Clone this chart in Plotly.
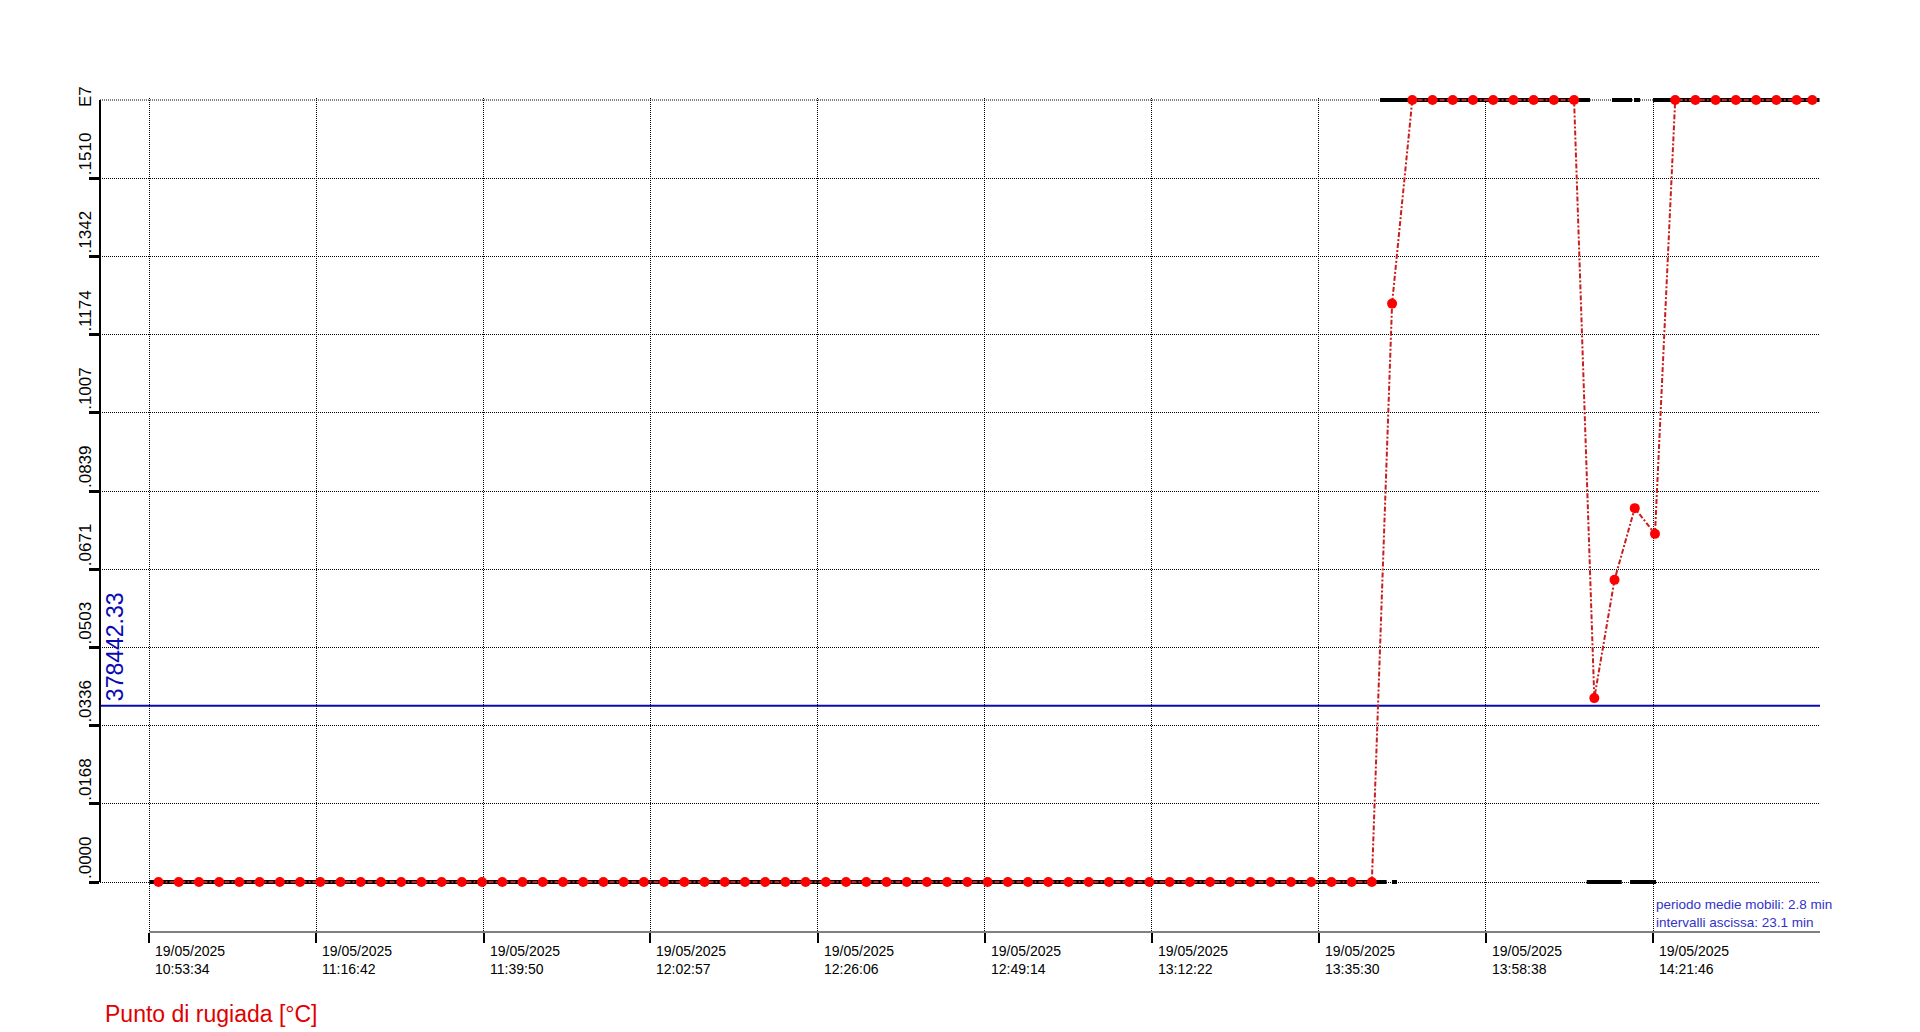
import plotly.graph_objects as go

FONT = "Liberation Sans, Arial, sans-serif"
DAY = "2025-05-19 "

# ---------------- data ----------------
x_tick_times = ["10:53:34", "11:16:42", "11:39:50", "12:02:57", "12:26:06",
                "12:49:14", "13:12:22", "13:35:30", "13:58:38", "14:21:46"]
x_tick_date = "19/05/2025"
x_range = ["10:46:44", "14:44:53"]

y_tick_vals = [0, 167780, 335560, 503340, 671120, 838900,
               1006680, 1174460, 1342240, 1510020]
y_tick_labels = [".0000", ".0168", ".0336", ".0503", ".0671", ".0839",
                 ".1007", ".1174", ".1342", ".1510"]
y_top = 1677800
y_top_label = "E7"

# moving average (red) – sampled every ~2.8 min
dew_times = [
    "10:54:50", "10:57:38", "11:00:26", "11:03:14", "11:06:02",
    "11:08:50", "11:11:38", "11:14:26", "11:17:14", "11:20:02",
    "11:22:50", "11:25:38", "11:28:26", "11:31:14", "11:34:02",
    "11:36:50", "11:39:38", "11:42:26", "11:45:14", "11:48:02",
    "11:50:50", "11:53:38", "11:56:26", "11:59:14", "12:02:02",
    "12:04:50", "12:07:38", "12:10:26", "12:13:14", "12:16:02",
    "12:18:50", "12:21:38", "12:24:26", "12:27:14", "12:30:02",
    "12:32:50", "12:35:38", "12:38:26", "12:41:14", "12:44:02",
    "12:46:50", "12:49:38", "12:52:26", "12:55:14", "12:58:02",
    "13:00:50", "13:03:38", "13:06:26", "13:09:14", "13:12:02",
    "13:14:50", "13:17:38", "13:20:26", "13:23:14", "13:26:02",
    "13:28:50", "13:31:38", "13:34:26", "13:37:14", "13:40:02",
    "13:42:50", "13:45:38", "13:48:26", "13:51:14", "13:54:02",
    "13:56:50", "13:59:38", "14:02:26", "14:05:14", "14:08:02",
    "14:10:50", "14:13:38", "14:16:26", "14:19:14", "14:22:02",
    "14:24:50", "14:27:38", "14:30:26", "14:33:14", "14:36:02",
    "14:38:50", "14:41:38", "14:43:49"]
dew_values = [
    0, 0, 0, 0, 0,
    0, 0, 0, 0, 0,
    0, 0, 0, 0, 0,
    0, 0, 0, 0, 0,
    0, 0, 0, 0, 0,
    0, 0, 0, 0, 0,
    0, 0, 0, 0, 0,
    0, 0, 0, 0, 0,
    0, 0, 0, 0, 0,
    0, 0, 0, 0, 0,
    0, 0, 0, 0, 0,
    0, 0, 0, 0, 0,
    0, 1241000, 1677800, 1677800, 1677800,
    1677800, 1677800, 1677800, 1677800, 1677800,
    1677800, 394600, 648300, 802100, 747000,
    1677800, 1677800, 1677800, 1677800, 1677800,
    1677800, 1677800, 1677800]

# raw signal (black, clipped to the axis range)
raw_times = ["10:53:34", "13:44:53", None, "13:45:37", "13:46:19", None,
             "14:12:35", "14:17:26", None, "14:18:35", "14:22:11", None,
             "13:43:58", "14:13:02", None, "14:16:05", "14:18:51", None,
             "14:19:08", "14:19:58", None, "14:21:46", "14:44:49"]
raw_values = [0, 0, None, 0, 0, None,
              0, 0, None, 0, 0, None,
              1677800, 1677800, None, 1677800, 1677800, None,
              1677800, 1677800, None, 1677800, 1677800]

threshold = 378442.33
threshold_label = "378442.33"
series_label = "Punto di rugiada [°C]"
info_lines = ["periodo medie mobili: 2.8 min", "intervalli ascissa: 23.1 min"]

# ---------------- styles ----------------
RED_LINE = "#c81e1e"
RED_DOT = "#ff0000"
BLUE = "#0a0ab4"
INFO_BLUE = "#3232c8"
LABEL_RED = "#e00000"
GRID_DASH = "1px,1px"


def ts(t):
    return None if t is None else DAY + t


fig = go.Figure()

fig.add_trace(go.Scatter(
    x=[ts(t) for t in raw_times], y=raw_values, mode="lines",
    line=dict(color="black", width=4), connectgaps=False,
    hoverinfo="skip", showlegend=False))

fig.add_trace(go.Scatter(
    x=[ts(t) for t in dew_times], y=dew_values, mode="lines+markers",
    line=dict(color=RED_LINE, width=2, dash="5px,2px,2px,2px"),
    marker=dict(color=RED_DOT, size=10),
    cliponaxis=False, showlegend=False, name=series_label))

shapes = [
    # top grid line
    dict(type="line", xref="paper", x0=0, x1=1, yref="y", y0=y_top, y1=y_top,
         line=dict(color="black", width=1, dash=GRID_DASH), layer="below"),
    # y axis line
    dict(type="line", xref="paper", x0=0, x1=0, yref="y", y0=0, y1=y_top,
         line=dict(color="black", width=2)),
    # x axis line (from first tick)
    dict(type="line", xref="x", x0=ts(x_tick_times[0]), x1=ts(x_range[1]),
         yref="paper", y0=0, y1=0, line=dict(color="black", width=1)),
    # threshold line
    dict(type="line", xref="paper", x0=0, x1=1, yref="y", y0=threshold,
         y1=threshold, line=dict(color=BLUE, width=2), layer="below"),
]

annotations = []
for v, lab in zip(y_tick_vals, y_tick_labels):
    annotations.append(dict(
        xref="paper", x=0, yref="y", y=v, text=lab, showarrow=False,
        textangle=-90, xanchor="right", yanchor="bottom", xshift=-3, yshift=1,
        font=dict(family=FONT, size=17, color="black")))
annotations.append(dict(
    xref="paper", x=0, yref="y", y=y_top, text=y_top_label, showarrow=False,
    textangle=-90, xanchor="right", yanchor="bottom", xshift=-3, yshift=-9,
    font=dict(family=FONT, size=17, color="black")))

for t in x_tick_times:
    annotations.append(dict(
        xref="x", x=ts(t), yref="paper", y=0,
        text=x_tick_date + "<br>" + t, showarrow=False, align="left",
        xanchor="left", yanchor="top", xshift=4, yshift=-9,
        font=dict(family=FONT, size=14, color="black")))

annotations.append(dict(
    xref="paper", x=0, yref="y", y=threshold, text=threshold_label,
    showarrow=False, textangle=-90, xanchor="left", yanchor="bottom",
    xshift=0, yshift=2, font=dict(family=FONT, size=23, color=BLUE)))

annotations.append(dict(
    xref="paper", x=0, yref="paper", y=0, text=series_label, showarrow=False,
    xanchor="left", yanchor="middle", xshift=3, yshift=-82,
    font=dict(family=FONT, size=23, color=LABEL_RED)))

annotations.append(dict(
    xref="x", x=ts(x_tick_times[-1]), yref="paper", y=0,
    text="<br>".join(info_lines), showarrow=False, align="left",
    xanchor="left", yanchor="bottom", xshift=1, yshift=0,
    font=dict(family=FONT, size=13.5, color=INFO_BLUE)))

fig.update_layout(
    width=1920, height=1032,
    margin=dict(l=100, r=100, t=98, b=100),
    paper_bgcolor="white", plot_bgcolor="white",
    showlegend=False,
    font=dict(family=FONT, size=14, color="black"),
    shapes=shapes, annotations=annotations,
)
fig.update_xaxes(
    type="date", range=[ts(x_range[0]), ts(x_range[1])],
    tickvals=[ts(t) for t in x_tick_times], showticklabels=False,
    ticks="outside", ticklen=10, tickwidth=2, tickcolor="black",
    showgrid=True, gridcolor="black", gridwidth=1, griddash=GRID_DASH,
    zeroline=False, showline=False)
fig.update_yaxes(
    range=[-107240, 1682090],
    tickvals=y_tick_vals, showticklabels=False,
    ticks="outside", ticklen=10, tickwidth=3, tickcolor="black",
    showgrid=True, gridcolor="black", gridwidth=1, griddash=GRID_DASH,
    zeroline=False, showline=False)

fig.write_html(
    "out.html",
    config={"displayModeBar": False},
    post_script="document.body.style.margin='0';document.body.style.overflow='hidden';")
